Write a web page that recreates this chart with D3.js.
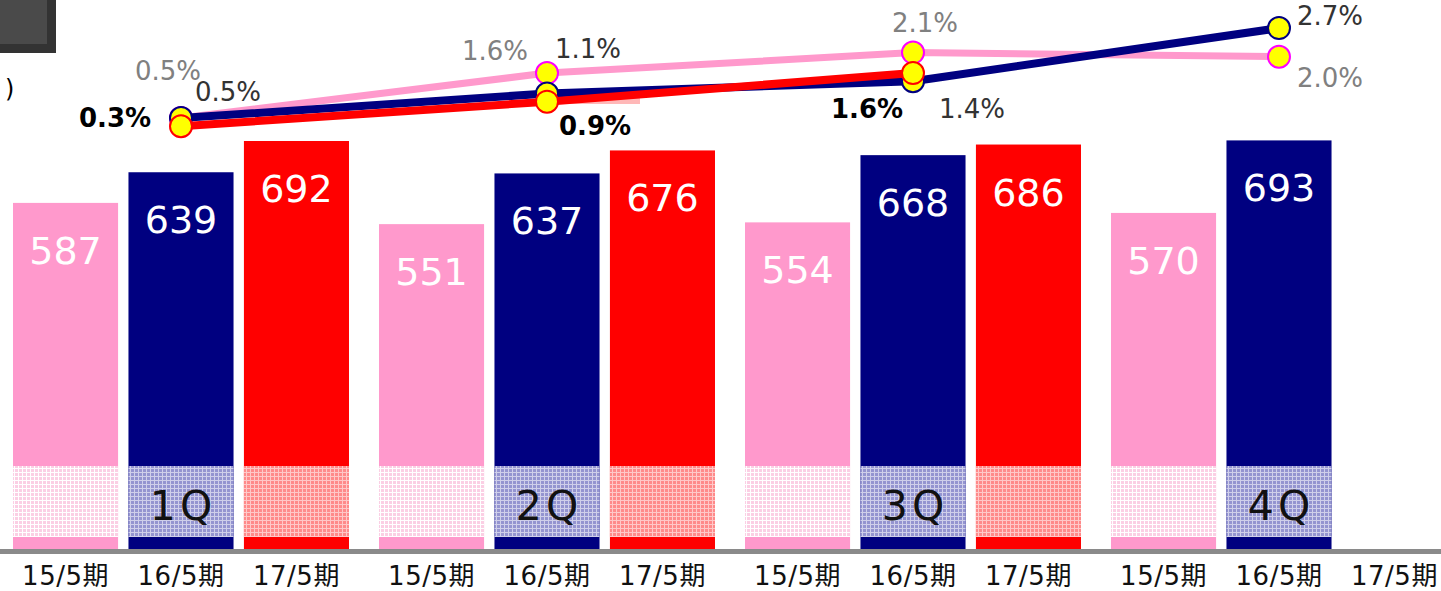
<!DOCTYPE html>
<html lang="ja">
<head>
    <meta charset="UTF-8">
    <title>四半期売上と伸び率</title>
    <script src="https://d3js.org/d3.v7.min.js"></script>
    <style>
        body { margin: 0; background: #fff; }
        svg { display: block; font-family: "DejaVu Sans", "Noto Sans CJK JP", sans-serif; }
    </style>
</head>
<body>
    <div id="chart"></div>

    <script>
        // quarters and fiscal periods
        const quarters = ['1Q', '2Q', '3Q', '4Q'];
        const periods = ['15/5期', '16/5期', '17/5期'];

        // bar values per period (4Q of 17/5期 not yet reported)
        const sales15 = [587, 551, 554, 570];
        const sales16 = [639, 637, 668, 693];
        const sales17 = [692, 676, 686, null];

        // line values (%) per period
        const rate15 = [0.5, 1.6, 2.1, 2.0];
        const rate16 = [0.5, 1.1, 1.4, 2.7];
        const rate17 = [0.3, 0.9, 1.6, null];

        const width = 1441;
        const height = 591;
        const baseY = 549;

        const colors = ['#ff99cc', '#000080', '#ff0000'];
        const markerStroke = ['#ff00ff', '#000080', '#ff0000'];
        const salesBySeries = [sales15, sales16, sales17];
        const rateBySeries = [rate15, rate16, rate17];

        const svg = d3.select('#chart')
            .append('svg')
            .attr('width', width)
            .attr('height', height);

        // patterns for the lighter band near the bottom of the bars
        const defs = svg.append('defs');
        const bandStyles = [
            { bg: '#fbcfe4', line: '#ffffff' },
            { bg: '#9494d0', line: '#cfcfea' },
            { bg: '#ff8a8a', line: '#ffc8c8' }
        ];
        bandStyles.forEach((s, i) => {
            const p = defs.append('pattern')
                .attr('id', 'band' + i)
                .attr('patternUnits', 'userSpaceOnUse')
                .attr('width', 4).attr('height', 4);
            p.append('rect').attr('width', 4).attr('height', 4).attr('fill', s.bg);
            p.append('rect').attr('x', 0).attr('y', 0).attr('width', 4).attr('height', 1).attr('fill', s.line);
            p.append('rect').attr('x', 0).attr('y', 0).attr('width', 1).attr('height', 4).attr('fill', s.line);
        });

        // scales
        const x0 = d3.scaleBand()
            .domain(quarters)
            .range([-2, 1462])
            .padding(0);

        const x1 = d3.scaleBand()
            .domain(periods)
            .range([0, x0.bandwidth()])
            .paddingInner(0.09)
            .paddingOuter(0.13);

        const y = d3.scaleLinear()
            .domain([0, 700])
            .range([baseY, baseY - 0.5896 * 700]);

        const yRate = d3.scaleLinear()
            .domain([0, 3])
            .range([138.5, 138.5 - 40.9 * 3]);

        // slide decoration in the top-left corner
        svg.append('rect').attr('x', 0).attr('y', 0).attr('width', 56).attr('height', 53).attr('fill', '#333');
        svg.append('rect').attr('x', 0).attr('y', 0).attr('width', 47).attr('height', 44).attr('fill', '#4a4a4a');
        svg.append('text').attr('x', 5).attr('y', 97).attr('font-size', 24).attr('fill', '#000').text(')');

        // bars
        const groups = svg.selectAll('g.quarter')
            .data(quarters)
            .join('g')
            .attr('class', 'quarter')
            .attr('transform', d => `translate(${x0(d)},0)`);

        periods.forEach((p, si) => {
            groups.each(function (q, qi) {
                const v = salesBySeries[si][qi];
                if (v == null) return;
                const g = d3.select(this);
                const bx = x1(p);
                const bw = x1.bandwidth();
                g.append('rect')
                    .attr('x', bx).attr('y', y(v))
                    .attr('width', bw).attr('height', baseY - y(v))
                    .attr('fill', colors[si]);
                g.append('rect')
                    .attr('x', bx).attr('y', 466)
                    .attr('width', bw).attr('height', 71)
                    .attr('fill', `url(#band${si})`);
                g.append('text')
                    .attr('x', bx + bw / 2).attr('y', y(v) + 61)
                    .attr('text-anchor', 'middle')
                    .attr('font-size', 38)
                    .attr('fill', '#fff')
                    .text(v);
            });
        });

        // quarter labels on the middle bar band
        groups.append('text')
            .attr('x', x1('16/5期') + x1.bandwidth() / 2 + 2)
            .attr('y', 520)
            .attr('text-anchor', 'middle')
            .attr('font-size', 41)
            .attr('letter-spacing', 4)
            .attr('fill', '#111')
            .text(d => d);

        // period labels under every bar slot
        groups.each(function () {
            d3.select(this).selectAll('text.period')
                .data(periods)
                .join('text')
                .attr('class', 'period')
                .attr('x', d => x1(d) + x1.bandwidth() / 2)
                .attr('y', 585)
                .attr('text-anchor', 'middle')
                .attr('font-size', 26)
                .attr('letter-spacing', 0.5)
                .attr('fill', '#111')
                .text(d => d);
        });

        // axis line
        svg.append('rect')
            .attr('x', 0).attr('y', 549)
            .attr('width', width).attr('height', 5)
            .attr('fill', '#8a8a8a');

        // leftover pattern strip near 2Q line
        svg.append('rect')
            .attr('x', 560).attr('y', 96).attr('width', 80).attr('height', 8)
            .attr('fill', '#ff9a9a').attr('opacity', 0.7);

        // lines
        const cx = q => x0(q) + x0.bandwidth() / 2;
        const lineWidths = [7, 8, 8];

        rateBySeries.forEach((rates, si) => {
            const pts = quarters.map((q, i) => ({ q, v: rates[i] })).filter(d => d.v != null);
            svg.append('path')
                .datum(pts)
                .attr('fill', 'none')
                .attr('stroke', colors[si])
                .attr('stroke-width', lineWidths[si])
                .attr('stroke-linejoin', 'round')
                .attr('d', d3.line()
                    .x(d => cx(d.q))
                    .y(d => yRate(d.v)));
            svg.selectAll(null)
                .data(pts)
                .join('circle')
                .attr('cx', d => cx(d.q))
                .attr('cy', d => yRate(d.v))
                .attr('r', 11)
                .attr('fill', '#ffff00')
                .attr('stroke', markerStroke[si])
                .attr('stroke-width', 2);
        });

        // percentage labels, offset from their markers
        const labelOffsets = [
            [[-13, -38], [-52, -13], [12, -21], [51, 30]],
            [[47, -17], [41, -36], [59, 37], [51, -3]],
            [[-66, 1], [48, 33], [-46, 45], [0, 0]]
        ];
        const labelStyles = [
            { fill: '#808080', weight: 'normal' },
            { fill: '#333333', weight: 'normal' },
            { fill: '#000000', weight: 'bold' }
        ];

        rateBySeries.forEach((rates, si) => {
            rates.forEach((v, qi) => {
                if (v == null) return;
                const [dx, dy] = labelOffsets[si][qi];
                svg.append('text')
                    .attr('x', cx(quarters[qi]) + dx)
                    .attr('y', yRate(v) + dy)
                    .attr('text-anchor', 'middle')
                    .attr('font-size', 26)
                    .attr('font-weight', labelStyles[si].weight)
                    .attr('fill', labelStyles[si].fill)
                    .text(v.toFixed(1) + '%');
            });
        });
    </script>
</body>
</html>
